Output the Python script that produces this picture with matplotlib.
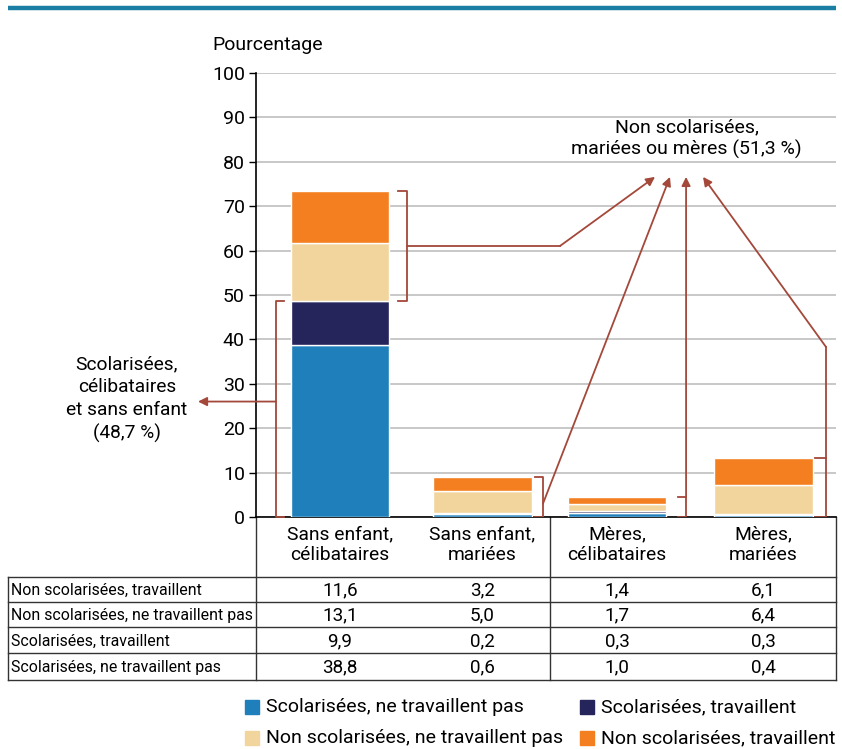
import matplotlib.pyplot as plt
from matplotlib.patches import Rectangle

# data
categories = ['Sans enfant,\ncélibataires', 'Sans enfant,\nmariées',
              'Mères,\ncélibataires', 'Mères,\nmariées']
scol_ne_trav = [38.8, 0.6, 1.0, 0.4]        # Scolarisées, ne travaillent pas
scol_trav = [9.9, 0.2, 0.3, 0.3]            # Scolarisées, travaillent
non_scol_ne_trav = [13.1, 5.0, 1.7, 6.4]    # Non scolarisées, ne travaillent pas
non_scol_trav = [11.6, 3.2, 1.4, 6.1]       # Non scolarisées, travaillent
series_labels = ['Scolarisées, ne travaillent pas', 'Scolarisées, travaillent',
                 'Non scolarisées, ne travaillent pas', 'Non scolarisées, travaillent']
colors = ['#1f7fbb', '#25245b', '#f2d59d', '#f47f21']

# style / layout
W, H = 842, 749
ANN = '#a4483a'
XPOS = [0.58, 1.56, 2.49, 3.5]
plt.rcParams['font.family'] = ['Roboto', 'DejaVu Sans']


def fmt(v):
    return f'{v:.1f}'.replace('.', ',')


fig = plt.figure(figsize=(W / 100, H / 100), dpi=100)
ax = fig.add_axes([256 / W, 1 - 517 / H, 580 / W, 444 / H])

stack = [scol_ne_trav, scol_trav, non_scol_ne_trav, non_scol_trav]
bottom = [0.0] * 4
for vals, col, lab in zip(stack, colors, series_labels):
    ax.bar(XPOS, vals, 0.68, bottom=bottom, color=col, edgecolor='white',
           linewidth=1, label=lab, zorder=3)
    bottom = [b + v for b, v in zip(bottom, vals)]
totals = bottom

ax.set_xlim(0, 4)
ax.set_ylim(0, 100)
ax.set_yticks(range(0, 101, 10))
ax.tick_params(axis='y', labelsize=14, length=5, width=1, direction='out', pad=3)
ax.set_xticks(XPOS, categories)
ax.tick_params(axis='x', labelsize=13.9, length=0, pad=6)
ax.grid(axis='y', color='#c4c4c4', linewidth=1.3, zorder=0)
ax.set_axisbelow(True)
for s in ['top', 'right']:
    ax.spines[s].set_visible(False)
ax.spines['left'].set_linewidth(1.2)
ax.spines['bottom'].set_linewidth(1.2)

# annotations
lw = 1.3
arrow = dict(arrowstyle='-|>', color=ANN, lw=lw, mutation_scale=13, shrinkA=0, shrinkB=0)
scol_total = scol_ne_trav[0] + scol_trav[0]
# left bracket: scolarisées
ax.plot([0.193, 0.138, 0.138, 0.193], [scol_total, scol_total, 0, 0],
        color=ANN, lw=lw, clip_on=False, zorder=4)
ax.annotate('', xy=(-0.40, 26), xytext=(0.138, 26), arrowprops=arrow,
            annotation_clip=False)
ax.text(-0.89, 26.5, f'Scolarisées,\ncélibataires\net sans enfant\n({fmt(scol_total)} %)',
        ha='center', va='center', fontsize=13.8, linespacing=1.35, clip_on=False)

# bar 1 right bracket
mid = (scol_total + totals[0]) / 2
ax.plot([0.979, 1.041, 1.041, 0.979], [totals[0], totals[0], scol_total, scol_total],
        color=ANN, lw=lw, zorder=4)
ax.plot([1.041, 2.097], [mid, mid], color=ANN, lw=lw, zorder=4)
ax.annotate('', xy=(2.752, 76.6), xytext=(2.097, mid), arrowprops=arrow)
# bar 2
ax.plot([1.924, 1.979, 1.979, 1.924], [totals[1], totals[1], 0, 0], color=ANN, lw=lw, zorder=4)
ax.annotate('', xy=(2.855, 76.6), xytext=(1.979, 3), arrowprops=arrow)
# bar 3
ax.plot([2.91, 2.966, 2.966, 2.91], [totals[2], totals[2], 0, 0], color=ANN, lw=lw, zorder=4)
ax.annotate('', xy=(2.966, 76.6), xytext=(2.966, totals[2]), arrowprops=arrow)
# bar 4
ax.plot([3.855, 3.931, 3.931, 3.855], [totals[3], totals[3], 0, 0], color=ANN, lw=lw, zorder=4)
ax.plot([3.931, 3.931], [totals[3], 38.3], color=ANN, lw=lw, zorder=4)
ax.annotate('', xy=(3.083, 76.6), xytext=(3.931, 38.3), arrowprops=arrow)
ax.text(2.97, 85.2, f'Non scolarisées,\nmariées ou mères ({fmt(100 - scol_total)} %)',
        ha='center', va='center', fontsize=14, linespacing=1.2, zorder=5)

# overlay in pixel coords for the frame, table, title and legend
ov = fig.add_axes([0, 0, 1, 1], zorder=-1)
ov.set_xlim(0, W)
ov.set_ylim(H, 0)
ov.axis('off')
ov.plot([8, 836], [8, 8], color='#1b7fa3', lw=3.2, solid_capstyle='butt')
ov.text(212, 45, 'Pourcentage', fontsize=14, va='center', ha='left')

tc = '#333333'
row_y = [577, 602, 627, 653, 680]
for y in row_y:
    ov.plot([8, 836], [y, y], color=tc, lw=1)
ov.plot([8, 8], [577, 680], color=tc, lw=1)
for x in [256, 550, 836]:
    ov.plot([x, x], [517, 680], color=tc, lw=1)

table_rows = ['Non scolarisées, travaillent', 'Non scolarisées, ne travaillent pas',
              'Scolarisées, travaillent', 'Scolarisées, ne travaillent pas']
table_vals = [non_scol_trav, non_scol_ne_trav, scol_trav, scol_ne_trav]
for i, (lab, vals) in enumerate(zip(table_rows, table_vals)):
    yc = (row_y[i] + row_y[i + 1]) / 2 + 1
    ov.text(11, yc, lab, fontsize=11.4, va='center', ha='left')
    for xp, v in zip(XPOS, vals):
        ov.text(256 + xp * 145, yc, fmt(v), fontsize=13.6, va='center', ha='center')

# legend, column-wise: scolarisées on top row, non scolarisées below
leg_pos = [(245, 707), (580, 707), (245, 738), (580, 738)]
for (lx, ly), col, lab in zip(leg_pos, colors, series_labels):
    ov.add_patch(Rectangle((lx, ly - 7), 14, 14, color=col))
    ov.text(lx + 21, ly, lab, fontsize=14, va='center', ha='left')

fig.savefig('out.png', dpi=100)
